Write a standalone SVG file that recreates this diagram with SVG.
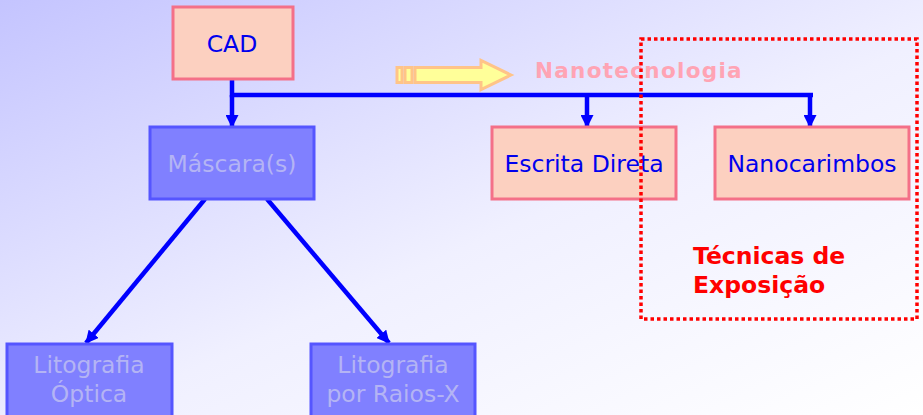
<svg xmlns="http://www.w3.org/2000/svg" width="923" height="415" viewBox="0 0 923 415">
  <defs>
    <linearGradient id="bg" x1="0" y1="0" x2="1" y2="1" gradientUnits="objectBoundingBox">
      <stop offset="0" stop-color="#c4c4ff"/>
      <stop offset="0.55" stop-color="#f0f0ff"/>
      <stop offset="1" stop-color="#ffffff"/>
    </linearGradient>
    <marker id="arr" viewBox="0 0 13 13" refX="12" refY="6.5" markerWidth="13" markerHeight="13" orient="auto" markerUnits="userSpaceOnUse">
      <path d="M0,0 L13,6.5 L0,13 z" fill="#0000ff"/>
    </marker>
    <style>
      .pink rect { fill: #fcd0c0; stroke: #f47088; stroke-width: 3; }
      .blue rect { fill: #8080ff; stroke: #5555ff; stroke-width: 3; }
      text { font-family: "DejaVu Sans", Verdana, sans-serif; font-size: 23.5px; text-anchor: middle; }
      .pink text { fill: #0000ee; }
      .blue text { fill: #b4b4f4; }
      .conn { stroke: #0000ff; stroke-width: 4.5; fill: none; }
      .note { text-anchor: start; font-weight: bold; fill: #ff0000; }
      .banner-shape { fill: #ffff99; stroke: #ffc488; stroke-width: 3; }
    </style>
  </defs>

  <rect width="923" height="415" fill="url(#bg)"/>

  <!-- banner arrow with label -->
  <g id="banner">
    <rect class="banner-shape" x="397" y="67.5" width="5" height="15"/>
    <rect class="banner-shape" x="405" y="67.5" width="7" height="15"/>
    <path class="banner-shape" d="M415,67.5 H481 V60.5 L511,75 L481,89.5 V82.5 H415 Z"/>
    <text x="535" y="78" style="text-anchor:start;font-weight:bold;font-size:21.5px;letter-spacing:1.3px;fill:#ffa4b4">Nanotecnologia</text>
  </g>

  <!-- connectors -->
  <g id="connectors">
    <path class="conn" d="M232,79 V95 H813"/>
    <path class="conn" d="M232,95 V127" marker-end="url(#arr)"/>
    <path class="conn" d="M587,93 V127" marker-end="url(#arr)"/>
    <path class="conn" d="M810,93 V127" marker-end="url(#arr)"/>
    <path class="conn" d="M205,199 L86,343" marker-end="url(#arr)"/>
    <path class="conn" d="M267,199 L389,343" marker-end="url(#arr)"/>
  </g>

  <g id="cad" class="pink">
    <rect x="173" y="7" width="120" height="72"/>
    <text x="232" y="52">CAD</text>
  </g>

  <g id="mascaras" class="blue">
    <rect x="150" y="127" width="164" height="72"/>
    <text x="232" y="172">Máscara(s)</text>
  </g>

  <g id="escrita" class="pink">
    <rect x="492" y="127" width="184" height="72"/>
    <text x="584" y="172">Escrita Direta</text>
  </g>

  <g id="nanocarimbos" class="pink">
    <rect x="715" y="127" width="194" height="72"/>
    <text x="812" y="172">Nanocarimbos</text>
  </g>

  <g id="litografia-optica" class="blue">
    <rect x="7" y="344" width="165" height="80"/>
    <text x="89" y="373">Litografia</text>
    <text x="89" y="402">Óptica</text>
  </g>

  <g id="litografia-raios-x" class="blue">
    <rect x="311" y="344" width="164" height="80"/>
    <text x="393" y="373">Litografia</text>
    <text x="393" y="402">por Raios-X</text>
  </g>

  <!-- exposure techniques frame -->
  <g id="tecnicas">
    <rect x="641" y="39" width="276" height="280" fill="none" stroke="#ff0000" stroke-width="3.5" stroke-dasharray="3.5 3"/>
    <text class="note" x="693" y="264">Técnicas de</text>
    <text class="note" x="693" y="293">Exposição</text>
  </g>
</svg>
